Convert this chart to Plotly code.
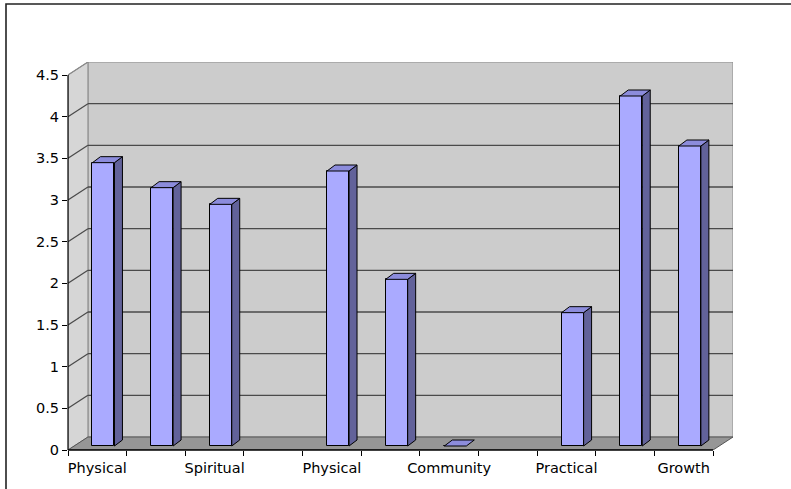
import plotly.graph_objects as go

# ---- data -------------------------------------------------------------
values = [3.4, 3.1, 2.9, None, 3.3, 2.0, 0.0, None, 1.6, 4.2, 3.6]
label_positions = [0, 2, 4, 6, 8, 10]          # category slots that carry a label
tick_labels = ["Physical", "Spiritual", "Physical", "Community", "Practical", "Growth"]
y_tick_values = [0, 0.5, 1, 1.5, 2, 2.5, 3, 3.5, 4, 4.5]
y_tick_labels = ["0", "0.5", "1", "1.5", "2", "2.5", "3", "3.5", "4", "4.5"]

# ---- pseudo-3D geometry (data units) ----------------------------------
N = len(values)
Y_MAX = 4.5
WALL_DX, WALL_DY = 0.34, 0.156      # depth of the walls / floor
BAR_SHIFT_X, BAR_SHIFT_Y = 0.105, 0.048   # bar front face sits a bit inside the floor
BAR_W = 0.375
BAR_DX, BAR_DY = 0.136, 0.072       # bar depth

W, H = 791, 489
M_L, M_R, M_T, M_B = 68, 58, 62, 39
PLOT_W, PLOT_H = W - M_L - M_R, H - M_T - M_B

FRONT = "#aaaaff"
TOP = "#8c8cdc"
SIDE = "#62629a"
BACK_WALL = "#cccccc"
SIDE_WALL = "#d6d6d6"
FLOOR = "#969696"
GRID = "#4a4a4a"
EDGE = "#8a8a8a"


def paper_x(px):
    return (px - M_L) / PLOT_W


def paper_y(px):
    return (H - M_B - px) / PLOT_H


shapes = []

# walls and floor
shapes.append(dict(type="rect", xref="x", yref="y", layer="below",
                   x0=WALL_DX, x1=N + WALL_DX, y0=WALL_DY, y1=Y_MAX + WALL_DY,
                   fillcolor=BACK_WALL, line=dict(color=EDGE, width=1)))
shapes.append(dict(type="path", xref="x", yref="y", layer="below",
                   path=f"M0,0 L0,{Y_MAX} L{WALL_DX},{Y_MAX + WALL_DY} L{WALL_DX},{WALL_DY} Z",
                   fillcolor=SIDE_WALL, line=dict(color=EDGE, width=1)))
shapes.append(dict(type="path", xref="x", yref="y", layer="below",
                   path=f"M0,0 L{N},0 L{N + WALL_DX},{WALL_DY} L{WALL_DX},{WALL_DY} Z",
                   fillcolor=FLOOR, line=dict(color="#555555", width=1)))

# gridlines on back wall and side wall
for v in y_tick_values[1:-1]:
    shapes.append(dict(type="line", xref="x", yref="y", layer="below",
                       x0=WALL_DX, x1=N + WALL_DX, y0=v + WALL_DY, y1=v + WALL_DY,
                       line=dict(color=GRID, width=1.3)))
for v in y_tick_values[1:]:
    shapes.append(dict(type="line", xref="x", yref="y", layer="below",
                       x0=0, x1=WALL_DX, y0=v, y1=v + WALL_DY,
                       line=dict(color=GRID if v < Y_MAX else EDGE, width=1.2)))

# front axis lines
shapes.append(dict(type="line", xref="paper", yref="y", layer="above",
                   x0=0, x1=0, y0=0, y1=Y_MAX, line=dict(color="black", width=1.2)))
shapes.append(dict(type="line", xref="x", yref="paper", layer="above",
                   x0=0, x1=N, y0=0, y1=0, line=dict(color="black", width=1.5)))

# chart frame
shapes.append(dict(type="path", xref="paper", yref="paper", layer="above",
                   path=(f"M{paper_x(6)},{paper_y(H + 5)} L{paper_x(6)},{paper_y(4)} "
                         f"L{paper_x(W + 5)},{paper_y(4)}"),
                   line=dict(color="#222222", width=1.6)))

# ---- bars -------------------------------------------------------------
centers = [i + 0.5 + BAR_SHIFT_X for i in range(N)]

front = go.Bar(x=centers, y=values, base=BAR_SHIFT_Y, width=BAR_W,
               marker=dict(color=FRONT, line=dict(color="black", width=1)),
               hoverinfo="skip", showlegend=False)

side_x, side_y, top_x, top_y = [], [], [], []
for c, v in zip(centers, values):
    if v is None:
        continue
    xl, xr = c - BAR_W / 2, c + BAR_W / 2
    b, t = BAR_SHIFT_Y, BAR_SHIFT_Y + v
    if v > 0:
        side_x += [xr, xr, xr + BAR_DX, xr + BAR_DX, xr, None]
        side_y += [b, t, t + BAR_DY, b + BAR_DY, b, None]
    top_x += [xl, xr, xr + BAR_DX, xl + BAR_DX, xl, None]
    top_y += [t, t, t + BAR_DY, t + BAR_DY, t, None]

side = go.Scatter(x=side_x, y=side_y, mode="lines", fill="toself", fillcolor=SIDE,
                  line=dict(color="black", width=1), hoverinfo="skip", showlegend=False)
top = go.Scatter(x=top_x, y=top_y, mode="lines", fill="toself", fillcolor=TOP,
                 line=dict(color="black", width=1), hoverinfo="skip", showlegend=False)

fig = go.Figure([front, side, top])

tick_font = dict(family="DejaVu Sans", size=14.5, color="black")

fig.update_layout(
    width=W, height=H,
    margin=dict(l=M_L, r=M_R, t=M_T, b=M_B, pad=0),
    paper_bgcolor="white", plot_bgcolor="white",
    shapes=shapes,
    bargap=0,
    xaxis=dict(range=[0, N + WALL_DX], showgrid=False, zeroline=False, showline=False,
               tickmode="array", tickvals=[p + 0.5 for p in label_positions],
               ticktext=tick_labels, ticks="outside", ticklen=5,
               tickcolor="rgba(0,0,0,0)", tickfont=tick_font,
               minor=dict(tickmode="array", tickvals=list(range(N + 1)),
                          ticks="outside", ticklen=5, tickcolor="black", tickwidth=1,
                          showgrid=False),
               fixedrange=True),
    yaxis=dict(range=[0, Y_MAX + WALL_DY], showgrid=False, zeroline=False, showline=False,
               tickmode="array", tickvals=y_tick_values, ticktext=y_tick_labels,
               ticks="outside", ticklen=5, tickcolor="black", tickwidth=1,
               tickfont=tick_font, fixedrange=True),
)

fig.write_html("out.html")
